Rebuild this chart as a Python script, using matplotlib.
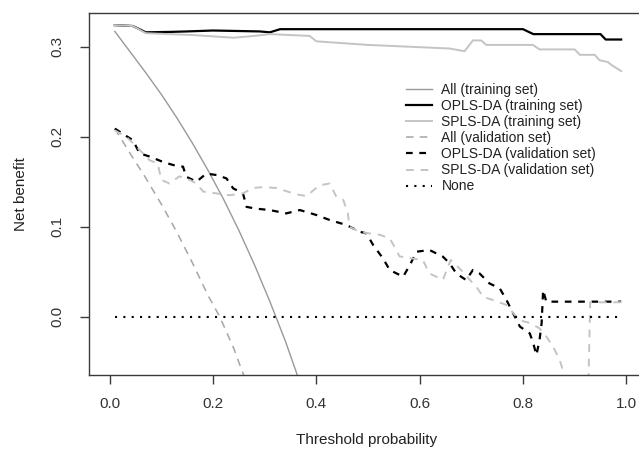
import matplotlib
matplotlib.use("Agg")
import matplotlib.pyplot as plt

plt.rcParams['font.family'] = ['Liberation Sans', 'DejaVu Sans']

# threshold probabilities / net benefit
all_train_t = [0.01, 0.04, 0.07, 0.10, 0.13, 0.16, 0.19, 0.22, 0.25, 0.28, 0.31, 0.34, 0.37]
all_train_nb = [0.317, 0.294, 0.271, 0.247, 0.221, 0.193, 0.163, 0.131, 0.096, 0.058,
                0.017, -0.027, -0.076]

opls_train_t = [0.01, 0.045, 0.07, 0.12, 0.15, 0.20, 0.29, 0.31, 0.33,
                0.80, 0.82, 0.95, 0.96, 0.99]
opls_train_nb = [0.324, 0.323, 0.316, 0.3165, 0.317, 0.318, 0.317, 0.316, 0.3195,
                 0.3195, 0.314, 0.314, 0.308, 0.308]

spls_train_t = [0.01, 0.045, 0.07, 0.16, 0.24, 0.28, 0.31, 0.387, 0.40, 0.50,
                0.658, 0.687, 0.703, 0.719, 0.729, 0.819, 0.832, 0.90, 0.91,
                0.939, 0.948, 0.964, 0.973, 0.99]
spls_train_nb = [0.324, 0.323, 0.315, 0.313, 0.310, 0.312, 0.314, 0.312, 0.306, 0.302,
                 0.298, 0.295, 0.307, 0.307, 0.302, 0.302, 0.297, 0.297, 0.291,
                 0.291, 0.285, 0.283, 0.279, 0.273]

all_val_t = [0.01, 0.04, 0.07, 0.10, 0.13, 0.16, 0.19, 0.213, 0.24, 0.26]
all_val_nb = [0.209, 0.181, 0.154, 0.125, 0.094, 0.060, 0.024, 0.0, -0.035, -0.066]

opls_val_t = [0.01, 0.045, 0.058, 0.077, 0.103, 0.123, 0.142, 0.148, 0.168, 0.187,
              0.207, 0.226, 0.239, 0.258, 0.265, 0.284, 0.310, 0.342, 0.368, 0.400,
              0.426, 0.458, 0.484, 0.497, 0.510, 0.529, 0.542, 0.568, 0.581, 0.594,
              0.619, 0.645, 0.658, 0.671, 0.690, 0.703, 0.716, 0.735, 0.755, 0.768,
              0.781, 0.794, 0.813, 0.819, 0.826, 0.832, 0.836, 0.839, 0.845, 0.99]
opls_val_nb = [0.209, 0.196, 0.1815, 0.178, 0.172, 0.1685, 0.1667, 0.1556, 0.150, 0.159,
               0.1574, 0.1537, 0.1426, 0.137, 0.122, 0.120, 0.1185, 0.1148, 0.1185, 0.113,
               0.1074, 0.1019, 0.0944, 0.0926, 0.0796, 0.0648, 0.0519, 0.0444, 0.0574, 0.0722,
               0.0741, 0.0667, 0.0593, 0.048, 0.0407, 0.0519, 0.048, 0.037, 0.0315, 0.0185,
               0.0037, -0.011, -0.0185, -0.0278, -0.0426, -0.026, -0.0074, 0.0296, 0.0167, 0.0167]

spls_val_t = [0.01, 0.032, 0.052, 0.077, 0.093, 0.100, 0.116, 0.135, 0.155, 0.168,
              0.181, 0.207, 0.232, 0.258, 0.277, 0.297, 0.323, 0.361, 0.381, 0.406,
              0.426, 0.439, 0.452, 0.461, 0.464, 0.484, 0.523, 0.542, 0.555, 0.561,
              0.581, 0.606, 0.619, 0.645, 0.660, 0.680, 0.697, 0.710, 0.723, 0.742,
              0.768, 0.781, 0.794, 0.813, 0.832, 0.845, 0.858, 0.871, 0.881, 0.90,
              0.92, 0.93, 0.99]
spls_val_nb = [0.207, 0.200, 0.189, 0.174, 0.170, 0.152, 0.148, 0.156, 0.152, 0.148,
               0.139, 0.137, 0.135, 0.137, 0.143, 0.144, 0.143, 0.136, 0.134, 0.146,
               0.148, 0.133, 0.130, 0.115, 0.100, 0.094, 0.091, 0.087, 0.074, 0.067,
               0.065, 0.063, 0.048, 0.041, 0.063, 0.052, 0.041, 0.033, 0.022, 0.0185,
               0.013, 0.004, -0.004, -0.007, -0.013, -0.022, -0.033, -0.048, -0.067, -0.25,
               -0.25, 0.016, 0.016]

none_t = [0.01, 0.99]
none_nb = [0.0, 0.0]

labels = ['All (training set)', 'OPLS-DA (training set)', 'SPLS-DA (training set)',
          'All (validation set)', 'OPLS-DA (validation set)', 'SPLS-DA (validation set)',
          'None']

fig = plt.figure(figsize=(6.39, 4.53), dpi=100)
ax = fig.add_axes([89 / 639, 78 / 453, 558 / 639, 362.3 / 453])

axis_col = '#3a3a3a'
ax.plot(all_train_t, all_train_nb, color='#999999', lw=1.0, label=labels[0])
ax.plot(opls_train_t, opls_train_nb, color='black', lw=1.6, label=labels[1])
ax.plot(spls_train_t, spls_train_nb, color='#c4c4c4', lw=1.4, label=labels[2])
ax.plot(all_val_t, all_val_nb, color='#a6a6a6', lw=1.1, dashes=(5, 4), label=labels[3])
ax.plot(opls_val_t, opls_val_nb, color='black', lw=1.6, dashes=(3, 3), label=labels[4])
ax.plot(spls_val_t, spls_val_nb, color='#c4c4c4', lw=1.4, dashes=(4, 3.5), label=labels[5])
ax.plot(none_t, none_nb, color='black', lw=1.5, dashes=(1, 3), label=labels[6])

ax.set_xlim(-0.04, 1.04)
ax.set_ylim(-0.0648, 0.3378)
ax.set_xticks([0.0, 0.2, 0.4, 0.6, 0.8, 1.0])
ax.set_xticklabels(['0.0', '0.2', '0.4', '0.6', '0.8', '1.0'])
ax.set_yticks([0.0, 0.1, 0.2, 0.3])
ax.set_yticklabels(['0.0', '0.1', '0.2', '0.3'], rotation=90, va='center')

for s in ax.spines.values():
    s.set_color(axis_col)
    s.set_linewidth(1.0)
ax.tick_params(direction='out', length=6.5, width=1.0, color=axis_col,
               labelcolor='#333333', labelsize=11, pad=9)
ax.tick_params(axis='y', pad=11)

fig.text(367 / 639, 1 - 440 / 453, 'Threshold probability', ha='center', va='center',
         fontsize=11, color='#222222')
fig.text(21 / 639, 1 - 194 / 453, 'Net benefit', ha='center', va='center',
         rotation=90, fontsize=11, color='#222222')

leg = ax.legend(loc='upper left', bbox_to_anchor=(406 / 639, 1 - 83 / 453),
                bbox_transform=fig.transFigure, frameon=False, fontsize=10,
                handlelength=1.9, handletextpad=0.65, labelspacing=0.15,
                borderpad=0, borderaxespad=0)
for t in leg.get_texts():
    t.set_color('#222222')

fig.savefig('out.png', dpi=100)
